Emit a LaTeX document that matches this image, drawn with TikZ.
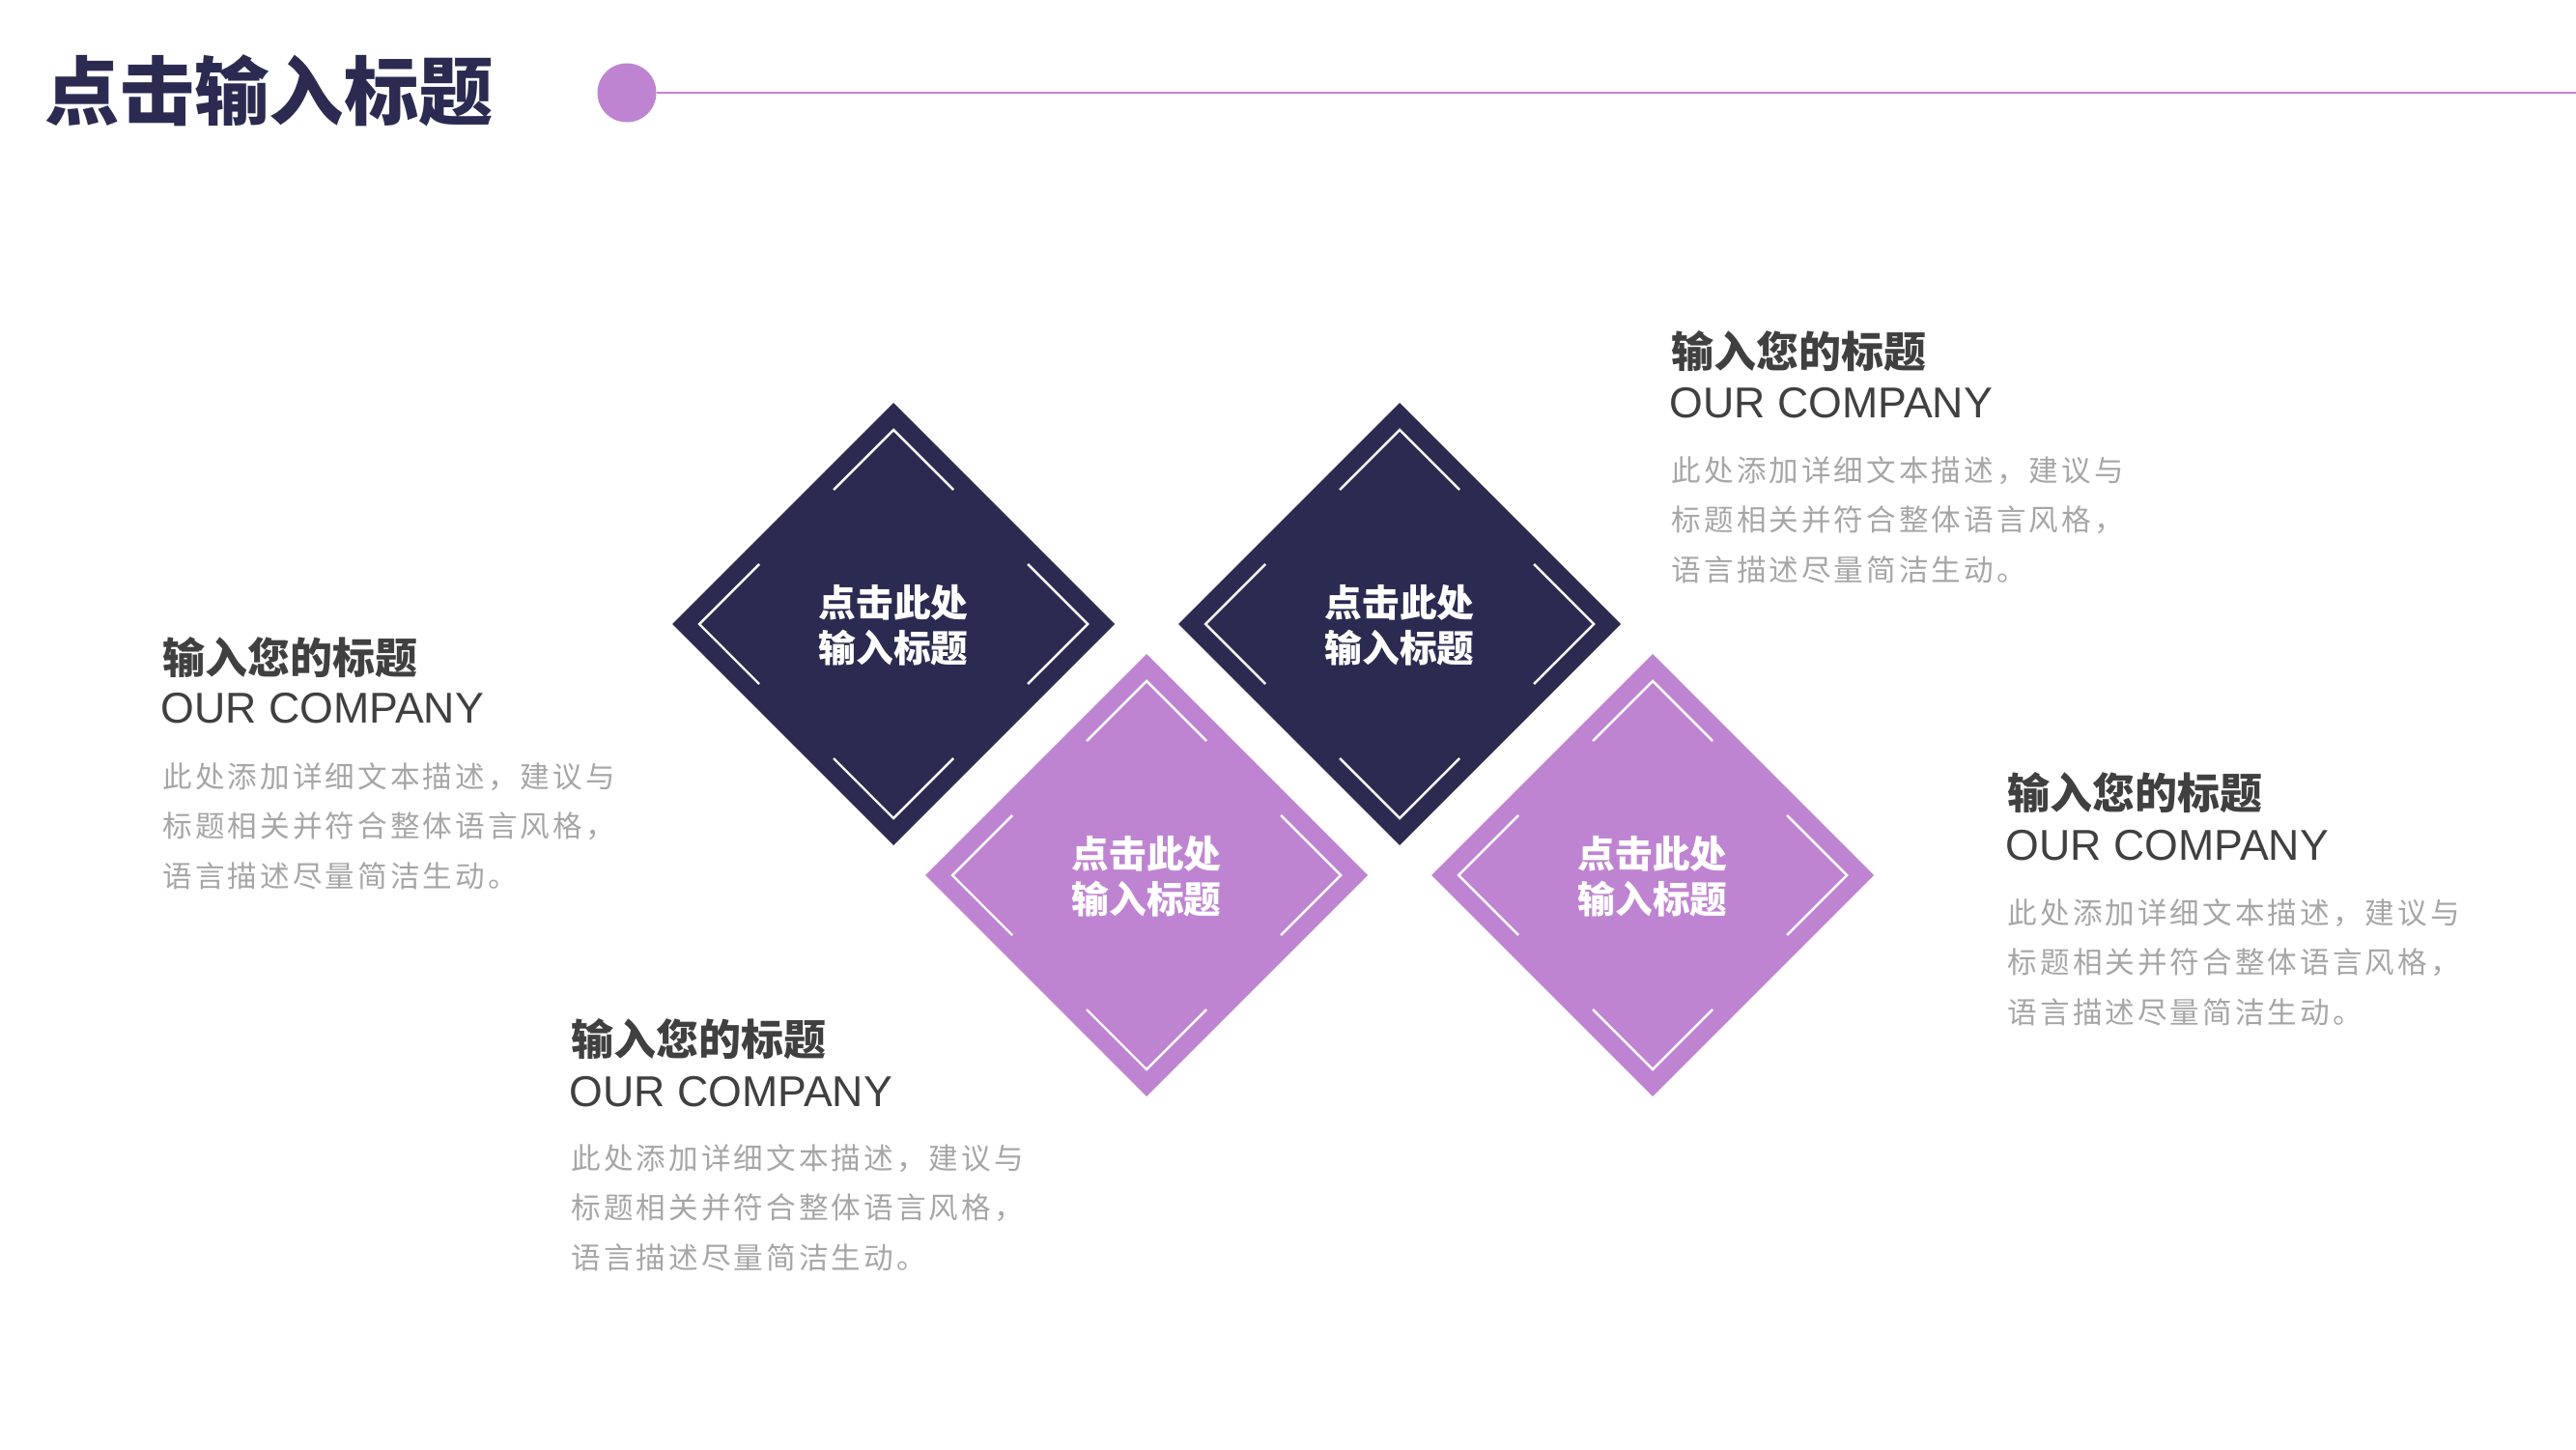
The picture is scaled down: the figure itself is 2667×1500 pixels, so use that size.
\documentclass[tikz,border=0pt]{standalone}
\usepackage{fontspec}
\setmainfont{Liberation Sans}
\newfontfamily\cjk{Noto Sans CJK SC}
\newfontfamily\cjkbody{Noto Sans CJK SC}[LetterSpace=10]
\definecolor{navy}{RGB}{43,43,82}
\definecolor{orchid}{RGB}{191,132,209}
\definecolor{headgray}{RGB}{64,64,64}
\definecolor{bodygray}{RGB}{166,166,166}
\tikzset{
	tile/.style={fill=#1,draw=none},
	bracket/.style={draw=white,line width=0.7pt},
	tiletext/.style={text=white,align=center,inner sep=0,font=\cjk\bfseries\fontsize{11}{13.4}\selectfont},
	headtext/.style={anchor=west,inner sep=0,text=headgray,font=\cjk\bfseries\fontsize{12.5}{15}\selectfont},
	comptext/.style={anchor=west,inner sep=0,text=headgray,font=\fontsize{12.7}{15}\selectfont},
	bodytext/.style={anchor=west,inner sep=0,text=bodygray,align=left,font=\cjkbody\fontsize{8.7}{14.65}\selectfont},
}
\begin{document}
\begin{tikzpicture}[x=0.01cm,y=-0.01cm]
	\useasboundingbox (0,0) rectangle (2667,1500);
	% Title
	\node[anchor=west,inner sep=0,text=navy,font=\cjk\bfseries\fontsize{22}{26}\selectfont] (title) at (46,94) {点击输入标题};
	\node[circle,fill=orchid,minimum size=0.61cm,inner sep=0] (dot) at (649,96) {};
	\coordinate (lineend) at (2667,96);
	\draw[orchid,line width=0.45pt] (dot.east) -- (lineend);
	% Tile 1
	\draw[tile=navy] (925,417) -- ++(229,229) -- ++(-229,229) -- ++(-229,-229) -- cycle;
	\draw[bracket] (863,507) -- ++(62,-62) -- ++(62,62);
	\draw[bracket] (1064,584) -- ++(62,62) -- ++(-62,62);
	\draw[bracket] (863,785) -- ++(62,62) -- ++(62,-62);
	\draw[bracket] (786,584) -- ++(-62,62) -- ++(62,62);
	\node[tiletext] (t1) at (925,647) {点击此处\\输入标题};
	% Tile 2
	\draw[tile=navy] (1449,417) -- ++(229,229) -- ++(-229,229) -- ++(-229,-229) -- cycle;
	\draw[bracket] (1387,507) -- ++(62,-62) -- ++(62,62);
	\draw[bracket] (1588,584) -- ++(62,62) -- ++(-62,62);
	\draw[bracket] (1387,785) -- ++(62,62) -- ++(62,-62);
	\draw[bracket] (1310,584) -- ++(-62,62) -- ++(62,62);
	\node[tiletext] (t2) at (1449,647) {点击此处\\输入标题};
	% Tile 3
	\draw[tile=orchid] (1187,677) -- ++(229,229) -- ++(-229,229) -- ++(-229,-229) -- cycle;
	\draw[bracket] (1125,767) -- ++(62,-62) -- ++(62,62);
	\draw[bracket] (1326,844) -- ++(62,62) -- ++(-62,62);
	\draw[bracket] (1125,1045) -- ++(62,62) -- ++(62,-62);
	\draw[bracket] (1048,844) -- ++(-62,62) -- ++(62,62);
	\node[tiletext] (t3) at (1187,907) {点击此处\\输入标题};
	% Tile 4
	\draw[tile=orchid] (1711,677) -- ++(229,229) -- ++(-229,229) -- ++(-229,-229) -- cycle;
	\draw[bracket] (1649,767) -- ++(62,-62) -- ++(62,62);
	\draw[bracket] (1850,844) -- ++(62,62) -- ++(-62,62);
	\draw[bracket] (1649,1045) -- ++(62,62) -- ++(62,-62);
	\draw[bracket] (1572,844) -- ++(-62,62) -- ++(62,62);
	\node[tiletext] (t4) at (1711,907) {点击此处\\输入标题};
	% Text left
	\node[headtext] (head1) at (168,681) {输入您的标题};
	\node[comptext] (comp1) at (166,733) {OUR COMPANY};
	\node[bodytext] (body1) at (168,855) {此处添加详细文本描述，建议与\\标题相关并符合整体语言风格，\\语言描述尽量简洁生动。};
	% Text top right
	\node[headtext] (head2) at (1730,364) {输入您的标题};
	\node[comptext] (comp2) at (1728,417) {OUR COMPANY};
	\node[bodytext] (body2) at (1730,538) {此处添加详细文本描述，建议与\\标题相关并符合整体语言风格，\\语言描述尽量简洁生动。};
	% Text bottom
	\node[headtext] (head3) at (591,1076) {输入您的标题};
	\node[comptext] (comp3) at (589,1130) {OUR COMPANY};
	\node[bodytext] (body3) at (591,1250) {此处添加详细文本描述，建议与\\标题相关并符合整体语言风格，\\语言描述尽量简洁生动。};
	% Text right
	\node[headtext] (head4) at (2078,821) {输入您的标题};
	\node[comptext] (comp4) at (2076,875) {OUR COMPANY};
	\node[bodytext] (body4) at (2078,996) {此处添加详细文本描述，建议与\\标题相关并符合整体语言风格，\\语言描述尽量简洁生动。};
\end{tikzpicture}
\end{document}
